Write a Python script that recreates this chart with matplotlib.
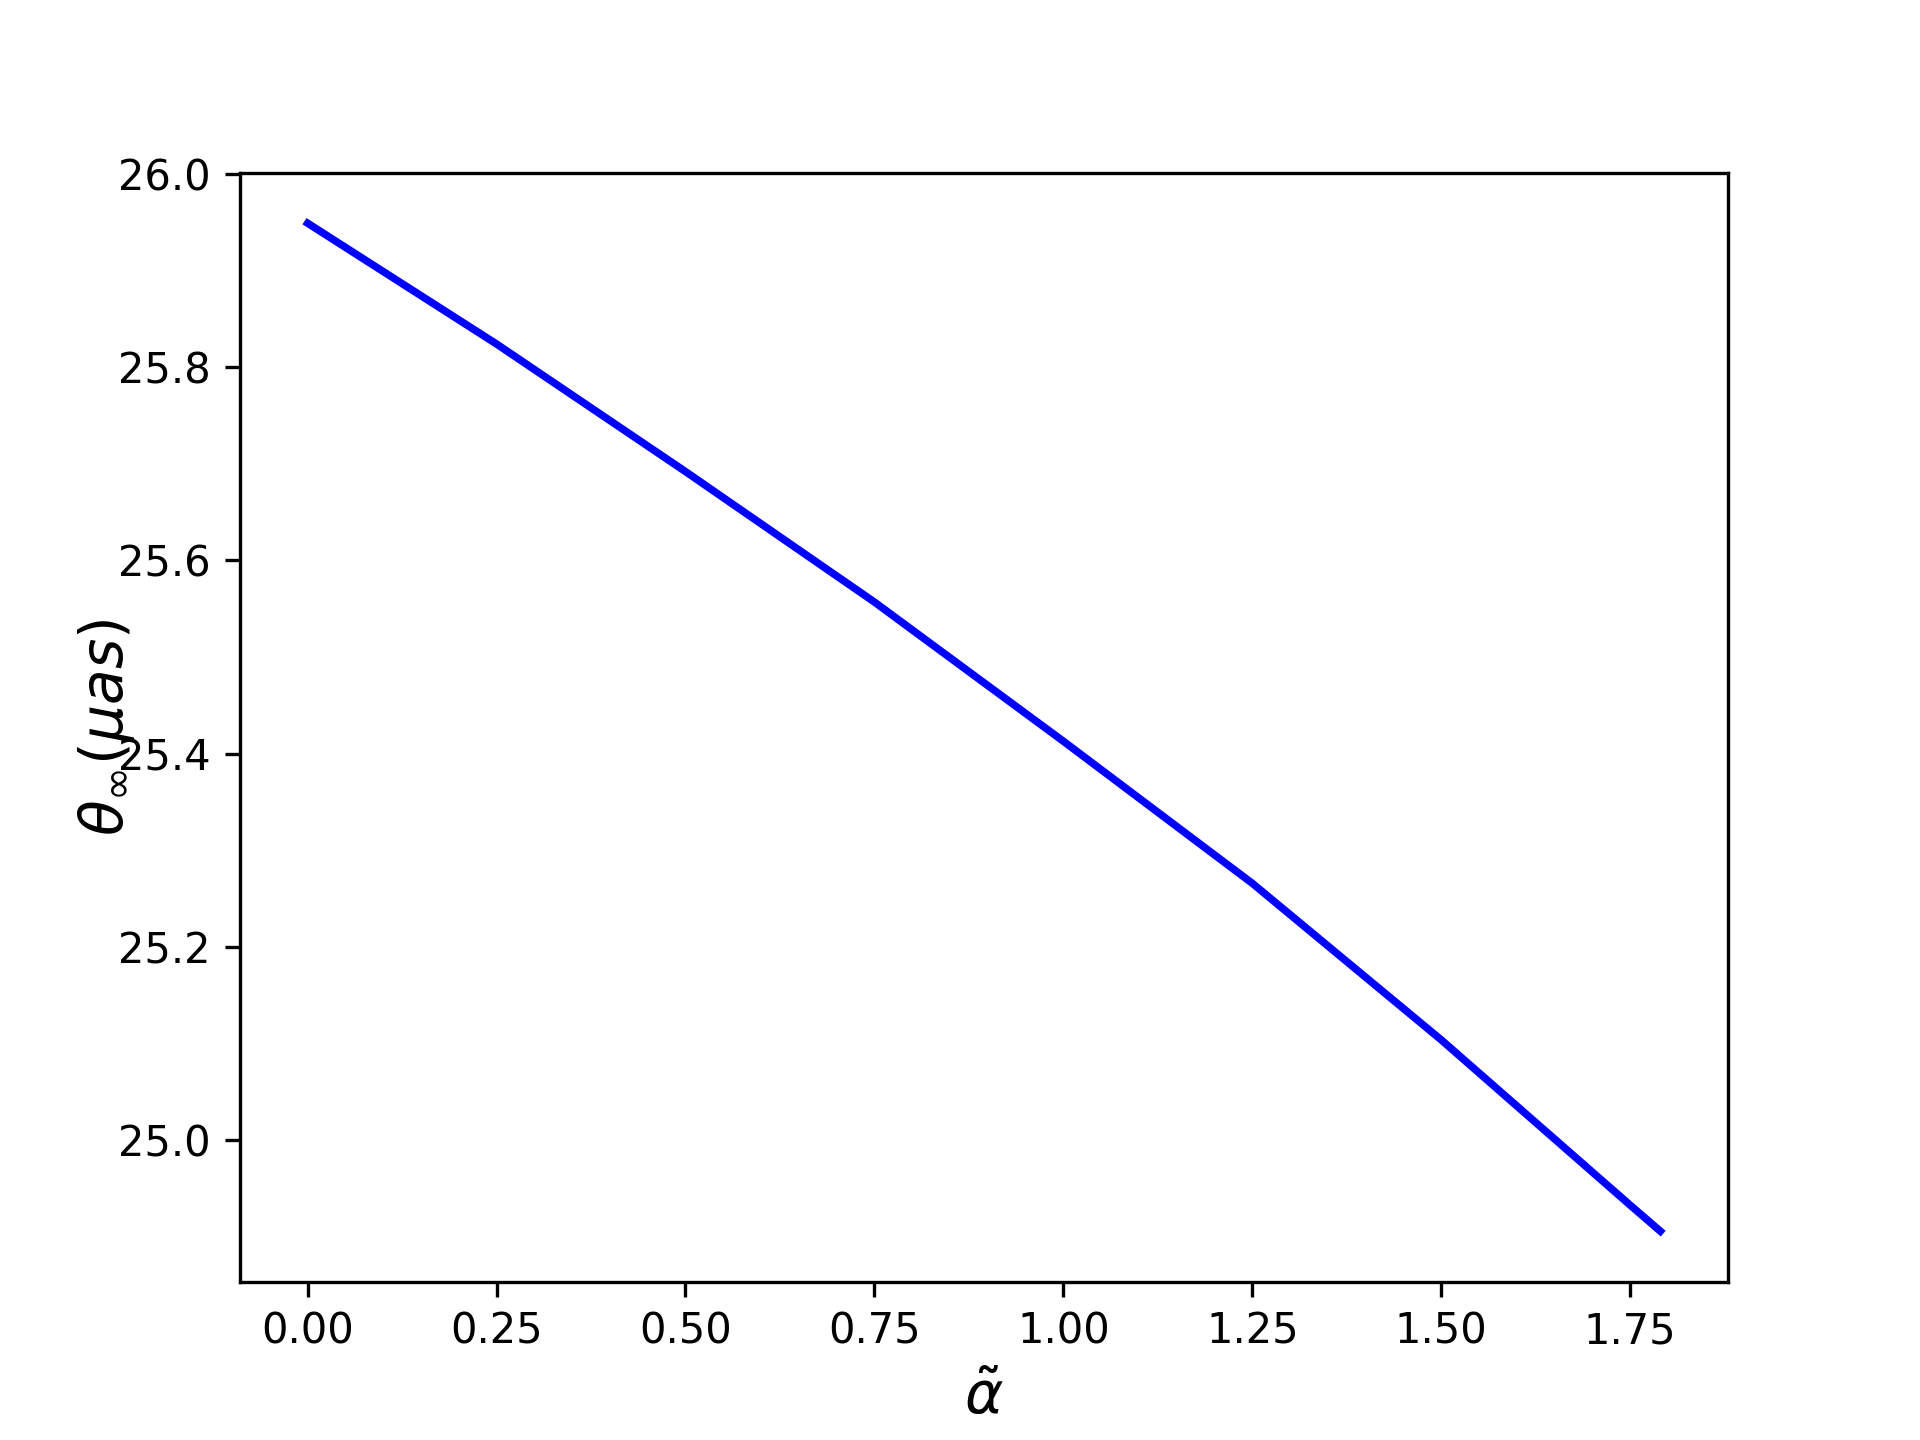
import numpy as np
import matplotlib
matplotlib.use("Agg")
import matplotlib.pyplot as plt

# values
alpha = [0.0, 0.25, 0.50, 0.75, 1.00, 1.25, 1.50, 1.75, 1.79]
theta = [25.949, 25.824, 25.692, 25.557, 25.413, 25.266, 25.104, 24.933, 24.906]

fig = plt.figure(figsize=(6.4, 4.8), dpi=300)
ax = fig.add_subplot(1, 1, 1)
ax.plot(alpha, theta, color='blue', linewidth=1.8)
ax.set_xlabel(r'$\tilde{\alpha}$', fontsize=14)
ax.set_ylabel(r'$\theta_{\infty}(\mu as)$', fontsize=14)
ax.yaxis.set_label_coords(-0.069, 0.5)

fig.savefig('out.png', dpi=300)
